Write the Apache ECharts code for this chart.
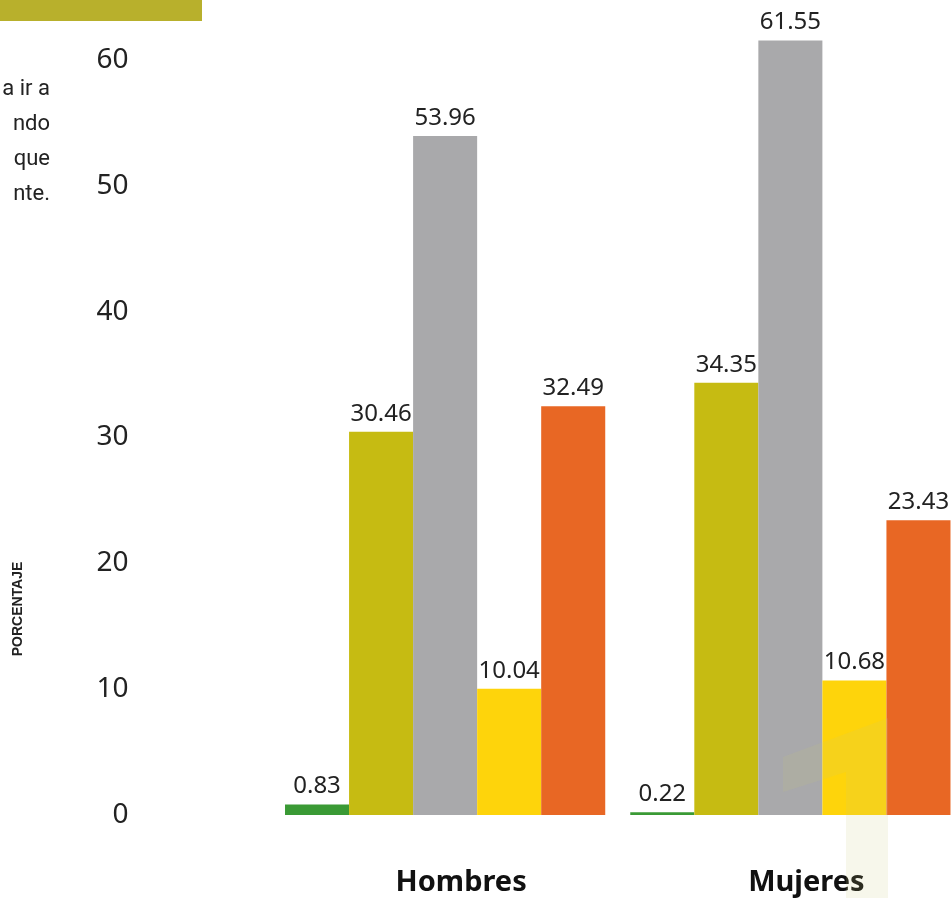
<!DOCTYPE html>
<html>
<head>
<meta charset="utf-8">
<script src="https://cdn.jsdelivr.net/npm/echarts@6/dist/echarts.min.js"></script>
<style>
html,body{margin:0;padding:0;background:#fff;overflow:hidden;width:951px;height:898px;}
#chart{width:963px;height:898px;}
</style>
</head>
<body>
<div id="chart"></div>
<script>
var categories = ['Hombres', 'Mujeres'];
var seriesNames = ['Serie 1', 'Serie 2', 'Serie 3', 'Serie 4', 'Serie 5'];
var serie1 = [0.83, 0.22];
var serie2 = [30.46, 34.35];
var serie3 = [53.96, 61.55];
var serie4 = [10.04, 10.68];
var serie5 = [32.49, 23.43];
var yTicks = [0, 10, 20, 30, 40, 50, 60];
var sideText = ['a ir a', 'ndo', 'que', 'nte.'];
var colors = ['#3a9a35', '#c6bb12', '#a9a9ab', '#fed40b', '#e86724'];

var allValues = [serie1, serie2, serie3, serie4, serie5];
var chart = echarts.init(document.getElementById('chart'));

var series = allValues.map(function (vals, i) {
  return {
    name: seriesNames[i],
    type: 'bar',
    data: vals,
    barGap: '0%',
    barCategoryGap: '7.25%',
    clip: false,
    itemStyle: { color: colors[i] },
    label: {
      show: true,
      position: 'top',
      distance: 6,
      formatter: function (p) { return p.value.toFixed(2); },
      color: '#222',
      fontSize: 24,
      fontFamily: 'Noto Sans'
    }
  };
});

var graphics = [
  { type: 'rect', shape: { x: 0, y: 0, width: 202, height: 21 }, style: { fill: '#b8b02c' } },
  {
    type: 'text', rotation: Math.PI / 2, x: 18, y: 609,
    style: { text: 'PORCENTAJE', fill: '#222', font: 'bold 14px "Liberation Sans"', align: 'center', verticalAlign: 'middle' }
  },
  {
    type: 'polygon', z: 100,
    shape: { points: [[783, 757], [888, 718], [888, 898], [846, 898], [846, 772], [783, 792]] },
    style: { fill: 'rgba(200,200,120,0.15)' }
  }
];
sideText.forEach(function (t, i) {
  graphics.push({
    type: 'text', x: 50, y: 89 + i * 35,
    style: { text: t, fill: '#222', font: '22px Roboto', align: 'right', verticalAlign: 'middle' }
  });
});

chart.setOption({
  animation: false,
  backgroundColor: '#fff',
  grid: { left: 272.5, right: 0, top: 60, bottom: 83, outerBoundsMode: 'none' },
  xAxis: {
    type: 'category',
    data: categories,
    axisLine: { show: false },
    axisTick: { show: false },
    axisLabel: {
      margin: 53,
      fontSize: 29,
      fontWeight: 'bold',
      color: '#111',
      fontFamily: 'Noto Sans',
      padding: [0, 0, 0, 32]
    }
  },
  yAxis: {
    type: 'value',
    min: yTicks[0],
    max: yTicks[yTicks.length - 1],
    interval: 10,
    splitLine: { show: false },
    axisLine: { show: false },
    axisTick: { show: false },
    axisLabel: { margin: 144, fontSize: 28, color: '#222', fontFamily: 'Noto Sans' }
  },
  series: series,
  graphic: graphics
});
</script>
</body>
</html>
